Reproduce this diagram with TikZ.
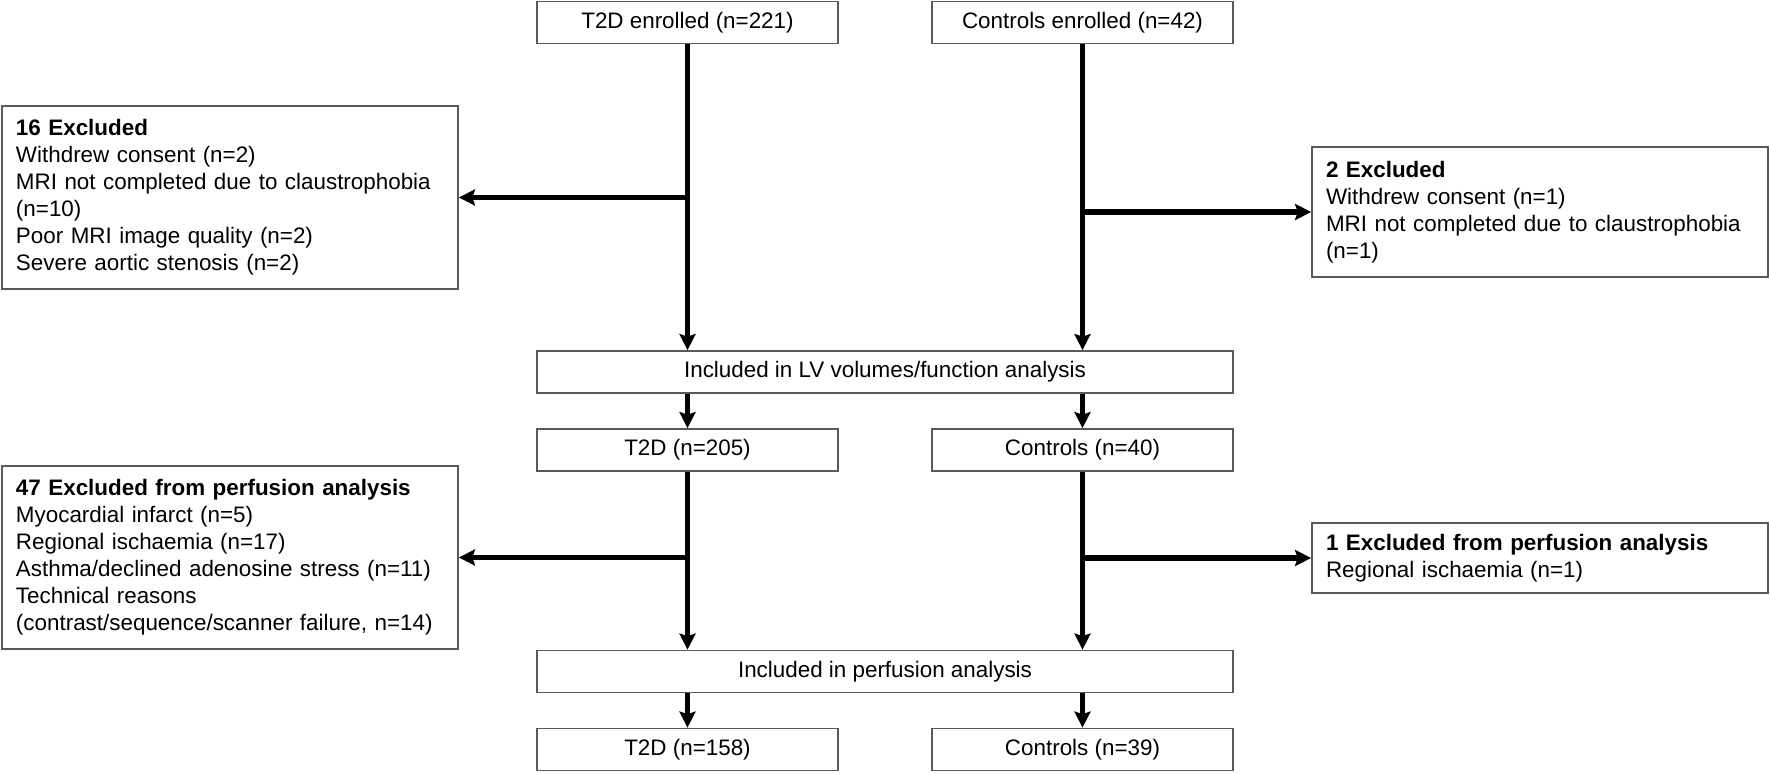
\documentclass[tikz,border=0pt]{standalone}
\usepackage{fontspec}
\setmainfont{Liberation Sans}
\usepackage{tikz}
\usetikzlibrary{arrows.meta}
\tikzset{>={Stealth[length=3.2mm,width=3.2mm,inset=0.5mm]}}
\tikzset{box/.style={draw=black!65,line width=0.35mm,minimum height=8.4mm,inner sep=0pt}}
\tikzset{excl/.style={box,align=left,text width=85.6mm,inner xsep=2.8mm}}
\tikzset{flow/.style={->,line width=1.1mm}}

\begin{document}
\begin{tikzpicture}[x=0.2mm,y=-0.2mm,font=\fontsize{12.75}{15.4}\selectfont]
                \useasboundingbox (0,0) rectangle (1770,773);
                \node[box,minimum width=60.2mm] (t2dEnr) at (687.5,22.5) {T2D enrolled (n=221)};
                \node[box,minimum width=60.2mm] (ctlEnr) at (1082.5,22.5) {Controls enrolled (n=42)};
                \node[excl,minimum height=36.6mm] (exc16) at (230,197.5) {\textbf{16 Excluded}\\Withdrew consent (n=2)\\MRI not completed due to claustrophobia\\(n=10)\\Poor MRI image quality (n=2)\\Severe aortic stenosis (n=2)};
                \node[excl,minimum height=26mm] (exc2) at (1540,212) {\textbf{2 Excluded}\\Withdrew consent (n=1)\\MRI not completed due to claustrophobia\\(n=1)};
                \node[box,minimum width=139.2mm] (lvIncl) at (885,372) {Included in LV volumes/function analysis};
                \node[box,minimum width=60.2mm] (t2d205) at (687.5,450) {T2D (n=205)};
                \node[box,minimum width=60.2mm] (ctl40) at (1082.5,450) {Controls (n=40)};
                \node[excl,minimum height=36.6mm] (exc47) at (230,557.5) {\textbf{47 Excluded from perfusion analysis}\\Myocardial infarct (n=5)\\Regional ischaemia (n=17)\\Asthma/declined adenosine stress (n=11)\\Technical reasons\\(contrast/sequence/scanner failure, n=14)};
                \node[excl,minimum height=14mm] (exc1) at (1540,558) {\textbf{1 Excluded from perfusion analysis}\\Regional ischaemia (n=1)};
                \node[box,minimum width=139.2mm] (perfIncl) at (885,671.5) {Included in perfusion analysis};
                \node[box,minimum width=60.2mm] (t2d158) at (687.5,749.5) {T2D (n=158)};
                \node[box,minimum width=60.2mm] (ctl39) at (1082.5,749.5) {Controls (n=39)};
                \draw[flow] (t2dEnr) -- (t2dEnr |- lvIncl.north);
                \draw[flow] (t2dEnr |- exc16) -- (exc16);
                \draw[flow] (ctlEnr) -- (ctlEnr |- lvIncl.north);
                \draw[flow] (ctlEnr |- exc2) -- (exc2);
                \draw[flow] (lvIncl.south -| t2d205) -- (t2d205);
                \draw[flow] (lvIncl.south -| ctl40) -- (ctl40);
                \draw[flow] (t2d205) -- (t2d205 |- perfIncl.north);
                \draw[flow] (t2d205 |- exc47) -- (exc47);
                \draw[flow] (ctl40) -- (ctl40 |- perfIncl.north);
                \draw[flow] (ctl40 |- exc1) -- (exc1);
                \draw[flow] (perfIncl.south -| t2d158) -- (t2d158);
                \draw[flow] (perfIncl.south -| ctl39) -- (ctl39);
            \end{tikzpicture}
\end{document}
